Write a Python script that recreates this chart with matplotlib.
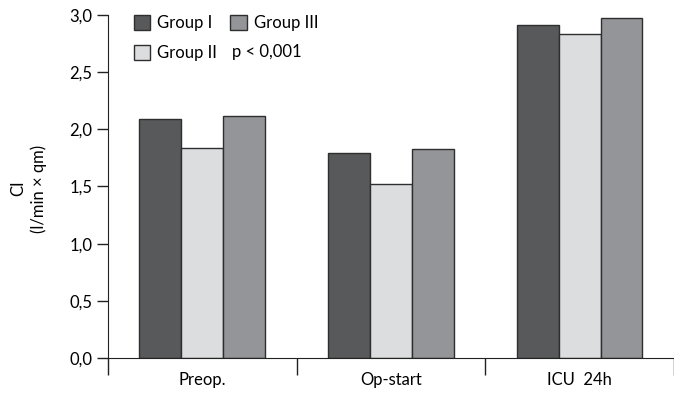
import numpy as np
import matplotlib
matplotlib.use("Agg")
from matplotlib import pyplot as plt
from matplotlib.patches import Patch

plt.rcParams['font.family'] = ['Lato', 'DejaVu Sans']

# Data
categories = ["Preop.", "Op-start", "ICU  24h"]
groups = ["Group I", "Group II", "Group III"]
group_1 = [2.09, 1.79, 2.91]
group_2 = [1.84, 1.52, 2.83]
group_3 = [2.12, 1.83, 2.97]
y_ticks = [0.0, 0.5, 1.0, 1.5, 2.0, 2.5, 3.0]
y_labels = ["0,0", "0,5", "1,0", "1,5", "2,0", "2,5", "3,0"]

colors = ["#58595b", "#dcdddf", "#949598"]
edge = "#2e2e2e"
fs = 12

fig = plt.figure(figsize=(6.74, 3.93), dpi=100)
ax = fig.add_axes([0.160, 0.089, 0.840, 0.873])

x = np.arange(len(categories))
w = 0.222
for i, vals in enumerate([group_1, group_2, group_3]):
    ax.bar(x + (i - 1) * w, vals, w, color=colors[i], edgecolor=edge, lw=1.0, label=groups[i], zorder=2)

ax.set_xlim(-0.5, 2.463)
ax.set_ylim(0, 3.0)
ax.spines['top'].set_visible(False)
ax.spines['right'].set_visible(False)
ax.spines['left'].set_color('#222222')
ax.spines['bottom'].set_color('#222222')

ax.set_yticks(y_ticks)
ax.set_yticklabels(y_labels, fontsize=fs)
ax.tick_params(axis='y', direction='out', length=8, width=1, color='#222222', pad=3)

# category boundary ticks below the axis, labels at centres
ax.set_xticks([-0.5, 0.5, 1.5, 2.5])
ax.set_xticklabels([])
ax.tick_params(axis='x', which='major', direction='out', length=12, width=1, color='#222222')
ax.set_xticks(x, minor=True)
ax.set_xticklabels(categories, minor=True, fontsize=fs)
ax.tick_params(axis='x', which='minor', length=0, pad=10)

fig.text(0.027, 0.52, "CI", rotation=90, ha='center', va='center', fontsize=fs)
fig.text(0.057, 0.52, "(l/min × qm)", rotation=90, ha='center', va='center', fontsize=fs)

handles = [Patch(facecolor=colors[0], edgecolor=edge),
           Patch(facecolor=colors[1], edgecolor=edge),
           Patch(facecolor=colors[2], edgecolor=edge)]
leg = ax.legend(handles, groups, ncol=2, loc='upper left', bbox_to_anchor=(0.025, 1.035),
                frameon=False, fontsize=fs, handlelength=1.0, handleheight=1.0,
                handletextpad=0.4, columnspacing=0.8, labelspacing=0.85, borderpad=0.2)
fig.text(0.344, 0.868, "p < 0,001", ha='left', va='center', fontsize=fs)

fig.savefig("out.png", dpi=100)
